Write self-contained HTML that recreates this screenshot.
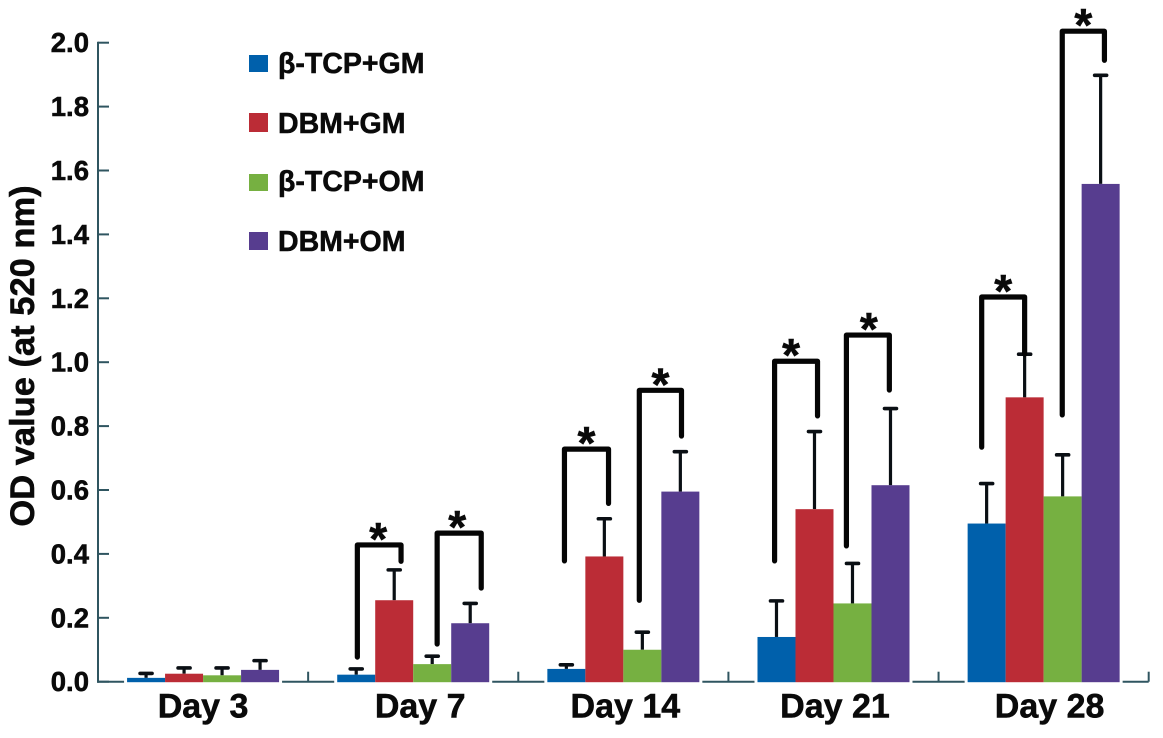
<!DOCTYPE html>
<html lang="en">
<head>
<meta charset="utf-8">
<title>OD value by day</title>
<style>
html,body{margin:0;padding:0;background:#fff;}
svg{display:block;}
text{font-family:"Liberation Sans","Noto Sans CJK SC",sans-serif;font-weight:bold;fill:#0a0a0a;stroke:#0a0a0a;stroke-width:0.55px;}
</style>
</head>
<body>
<svg id="chart" xmlns="http://www.w3.org/2000/svg" width="1163" height="738" viewBox="0 0 1163 738">
  <rect width="1163" height="738" fill="#ffffff"/>
  <text transform="translate(34,356) rotate(-90)" text-anchor="middle" font-size="34.5">OD value (at 520 nm)</text>
  <g>
    <g>
      <rect x="249" y="55" width="19" height="17" fill="#0060ab"/>
      <text x="278" y="73" font-size="28.5">β-TCP+GM</text>
    </g>
    <g>
      <rect x="249" y="113" width="19" height="19" fill="#bb2c36"/>
      <text x="278" y="133" font-size="28.5">DBM+GM</text>
    </g>
    <g>
      <rect x="249" y="174" width="19" height="17" fill="#76b041"/>
      <text x="278" y="191" font-size="28.5">β-TCP+OM</text>
    </g>
    <g>
      <rect x="249" y="232" width="19" height="18" fill="#573d8f"/>
      <text x="278" y="251" font-size="28.5">DBM+OM</text>
    </g>
  </g>
</svg>
<script>
var categories = ["Day 3", "Day 7", "Day 14", "Day 21", "Day 28"];
var seriesNames = ["btcp-gm", "dbm-gm", "btcp-om", "dbm-om"];
var btcpGm = [0.012, 0.022, 0.040, 0.140, 0.495];
var dbmGm = [0.025, 0.255, 0.392, 0.540, 0.890];
var btcpOm = [0.020, 0.055, 0.100, 0.245, 0.580];
var dbmOm = [0.037, 0.183, 0.595, 0.615, 1.558];
var btcpGmTop = [0.026, 0.040, 0.053, 0.253, 0.620];
var dbmGmTop = [0.043, 0.350, 0.510, 0.783, 1.025];
var btcpOmTop = [0.043, 0.080, 0.155, 0.370, 0.710];
var dbmOmTop = [0.066, 0.245, 0.720, 0.855, 1.898];
var yTicks = ["0.0", "0.2", "0.4", "0.6", "0.8", "1.0", "1.2", "1.4", "1.6", "1.8", "2.0"];
/* significance brackets: day index, start/end in bar units, top value, left/right end values */
var bracketDay = [1, 1, 2, 2, 3, 3, 4, 4];
var bracketFrom = [0.53, 2.63, 0.45, 2.42, 0.45, 2.34, 0.37, 2.49];
var bracketTo = [1.68, 3.79, 1.61, 3.53, 1.58, 3.47, 1.50, 3.60];
var bracketTop = [0.428, 0.465, 0.728, 0.912, 1.003, 1.085, 1.204, 2.036];
var bracketLeftEnd = [0.077, 0.118, 0.378, 0.255, 0.378, 0.425, 0.734, 0.835];
var bracketRightEnd = [0.377, 0.293, 0.558, 0.769, 0.832, 0.913, 1.025, 1.945];

var seriesValues = [btcpGm, dbmGm, btcpOm, dbmOm];
var seriesTops = [btcpGmTop, dbmGmTop, btcpOmTop, dbmOmTop];
var seriesColors = ["#0060ab", "#bb2c36", "#76b041", "#573d8f"];
var labelNudge = [0, 7, 2, 1.5, 6];
var starNudge = [-1, -2, 0, 0, -5, 1, 0, 0];

var NS = "http://www.w3.org/2000/svg";
var svg = document.getElementById("chart");
var plotLeft = 98, plotRight = 1148.7, yZero = 681.7, unitPx = 319.5, barW = 38;
var bandW = (plotRight - plotLeft) / categories.length;
var axisColor = "#2f5560";

function yPos(v) { return yZero - v * unitPx; }
function bandCenter(i) { return plotLeft + bandW * (i + 0.5); }
function barLeft(i, b) { return bandCenter(i) + (b - 2) * barW; }
function mk(tag, attrs, parent) {
  var el = document.createElementNS(NS, tag);
  for (var k in attrs) el.setAttribute(k, attrs[k]);
  (parent || svg).appendChild(el);
  return el;
}

var axes = mk("g", {});



var yAxis = mk("line", {x1: plotLeft, x2: plotLeft, y1: yPos(2) - 1, y2: yZero + 1, stroke: axisColor, "stroke-width": 2}, axes);



var xAxis = mk("line", {x1: plotLeft - 1, x2: plotRight, y1: yZero, y2: yZero, stroke: axisColor, "stroke-width": 2}, axes);



yTicks.forEach(function (label) {
  var v = parseFloat(label);
  var y = yPos(v);
  var t = mk("line", {x1: plotLeft, x2: plotLeft + 11, y1: y, y2: y, stroke: axisColor, "stroke-width": 2}, axes);
  
  
  var tx = mk("text", {x: 89, y: y + 9.5, "text-anchor": "end", "font-size": 27.5}, axes);
  
  
  tx.textContent = label;
});

categories.forEach(function (name, i) {
  var x = plotLeft + bandW * (i + 1);
  var t = mk("line", {x1: x, x2: x, y1: yZero - 10, y2: yZero, stroke: axisColor, "stroke-width": 2}, axes);
  
  
  var tx = mk("text", {x: bandCenter(i) + labelNudge[i], y: 717.5, "text-anchor": "middle", "font-size": 34}, axes);
  
  
  tx.textContent = name;
});

categories.forEach(function (name, i) {
  var halo = mk("rect", {x: barLeft(i, 0) - 3, y: yZero - 4, width: barW * 4 + 6, height: 7, fill: "#ffffff"});
  
  
});

seriesValues.forEach(function (values, s) {
  var tops = seriesTops[s];
  var group = mk("g", {});
  
  
  values.forEach(function (v, i) {
    var x = barLeft(i, s);
    var cx = x + barW / 2;
    var stem = mk("line", {x1: cx, x2: cx, y1: yPos(v), y2: yPos(tops[i]), stroke: "#0a0f14", "stroke-width": 3.2}, group);
    
    
    var cap = mk("line", {x1: cx - 6, x2: cx + 6, y1: yPos(tops[i]), y2: yPos(tops[i]), stroke: "#0a0f14", "stroke-width": 3.6, "stroke-linecap": "round"}, group);
    
    
    var bar = mk("rect", {x: x, y: yPos(v), width: barW, height: yZero + 0.5 - yPos(v), fill: seriesColors[s]}, group);
    
    
  });
});

bracketDay.forEach(function (d, i) {
  var x1 = barLeft(d, bracketFrom[i]);
  var x2 = barLeft(d, bracketTo[i]);
  var yT = yPos(bracketTop[i]);
  var path = mk("path", {
    d: "M" + x1 + " " + yPos(bracketLeftEnd[i]) + "V" + yT + "H" + x2 + "V" + yPos(bracketRightEnd[i]),
    fill: "none", stroke: "#050505", "stroke-width": 5.2, "stroke-linejoin": "round", "stroke-linecap": "round"
  });
  
  
  var star = mk("text", {x: (x1 + x2) / 2 + starNudge[i], y: yT + 10, "text-anchor": "middle", "font-size": 46});
  
  
  star.textContent = "*";
});
</script>
</body>
</html>
